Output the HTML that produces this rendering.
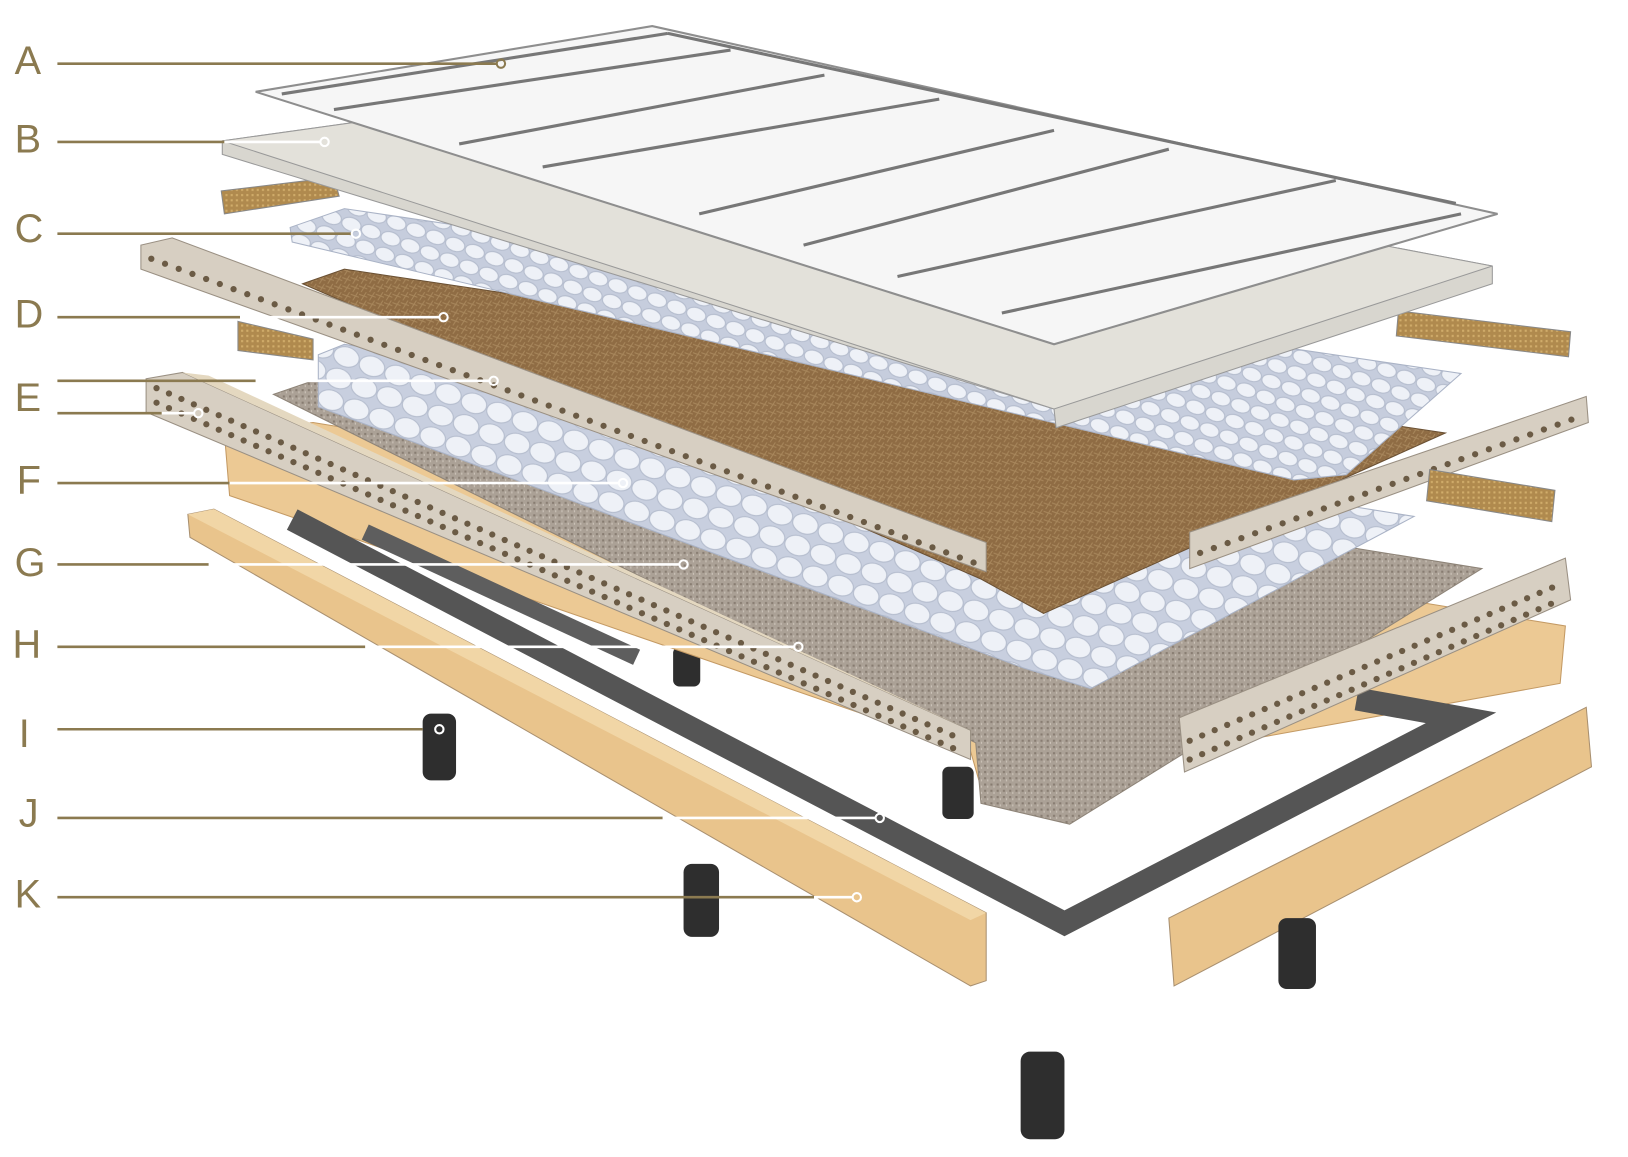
<!DOCTYPE html>
<html><head><meta charset="utf-8"><style>
html,body{margin:0;padding:0;background:#fff;}
svg{display:block;}
</style></head><body>
<svg width="1628" height="1157" viewBox="0 0 1560 1109" preserveAspectRatio="none" xmlns="http://www.w3.org/2000/svg">
<defs>
<pattern id="spr" width="20" height="16" patternUnits="userSpaceOnUse" patternTransform="rotate(20)">
<rect width="20" height="16" fill="#c6cddd"/>
<ellipse cx="10" cy="7" rx="9.5" ry="6.5" fill="#eef1f7" stroke="#b4bccd" stroke-width="1"/>
</pattern>
<pattern id="spr2" width="26" height="22" patternUnits="userSpaceOnUse" patternTransform="rotate(20)">
<rect width="26" height="22" fill="#c8cfdf"/>
<ellipse cx="13" cy="10" rx="12.5" ry="9.5" fill="#eef1f7" stroke="#b4bccd" stroke-width="1"/>
</pattern>
<pattern id="coir" width="8" height="8" patternUnits="userSpaceOnUse">
<rect width="8" height="8" fill="#8f6c44"/>
<path d="M0 2 L8 5 M2 8 L7 0" stroke="#a8875c" stroke-width="1"/>
</pattern>
<pattern id="felt" width="6" height="6" patternUnits="userSpaceOnUse">
<rect width="6" height="6" fill="#aba196"/>
<rect x="1" y="1" width="2" height="2" fill="#877c71"/>
<rect x="4" y="3" width="1" height="2" fill="#cfc7bc"/>
</pattern>
<pattern id="coirbar" width="5" height="5" patternUnits="userSpaceOnUse">
<rect width="5" height="5" fill="#b08a4e"/>
<rect x="1" y="1" width="2" height="2" fill="#d1ad6b"/>
</pattern>
</defs>

<g font-family="Liberation Sans, sans-serif" font-size="38" fill="#8b7a50">
<text x="14" y="71">A</text><text x="14" y="146">B</text><text x="14" y="232">C</text>
<text x="14" y="314">D</text><text x="14" y="394">E</text><text x="16" y="473">F</text>
<text x="14" y="552">G</text><text x="12" y="630">H</text><text x="18" y="716">I</text>
<text x="18" y="792">J</text><text x="14" y="870">K</text>
</g>

<g fill="#2e2e2e">
<rect x="645" y="620" width="26" height="38" rx="6"/>
<rect x="903" y="735" width="30" height="50" rx="6"/>
</g>

<polygon points="215,415 300,405 1500,600 1495,655 940,755 930,720 220,475" fill="#ecc994" stroke="#c49a64"/>
<polyline points="280,498 1020,885 1400,688 1300,670" fill="none" stroke="#555" stroke-width="22" stroke-linejoin="miter"/>
<polyline points="350,510 610,630" fill="none" stroke="#5e5e5e" stroke-width="16"/>
<polygon points="262,378 300,365 1420,545 1025,790 940,770 935,712" fill="url(#felt)" stroke="#8e8478"/>
<polygon points="140,363 175,357 930,700 930,728 140,395" fill="#d7cfc2" stroke="#9a9083"/>
<polygon points="175,357 200,360 930,700" fill="#e4d8c0"/>
<line x1="150" y1="372" x2="920" y2="708" stroke="#6b5b45" stroke-width="6" stroke-linecap="round" stroke-dasharray="0 13"/>
<line x1="150" y1="386" x2="920" y2="720" stroke="#6b5b45" stroke-width="6" stroke-linecap="round" stroke-dasharray="0 13"/>
<polygon points="1130,688 1500,535 1505,575 1135,740" fill="#d7cfc2" stroke="#9a9083"/>
<line x1="1140" y1="710" x2="1495" y2="560" stroke="#6b5b45" stroke-width="6" stroke-linecap="round" stroke-dasharray="0 13"/>
<line x1="1140" y1="728" x2="1495" y2="575" stroke="#6b5b45" stroke-width="6" stroke-linecap="round" stroke-dasharray="0 13"/>
<polygon points="305,340 330,330 1355,495 1045,660 980,640 305,390" fill="url(#spr2)" stroke="#aab3c6"/>
<polygon points="290,272 330,258 1385,415 1000,588 940,555" fill="url(#coir)" stroke="#6a5033"/>
<polygon points="135,235 165,228 945,520 945,548 135,258" fill="#d7cfc2" stroke="#9a9083"/>
<line x1="145" y1="248" x2="935" y2="540" stroke="#6b5b45" stroke-width="6" stroke-linecap="round" stroke-dasharray="0 14"/>
<polygon points="1140,510 1520,380 1522,405 1140,545" fill="#d7cfc2" stroke="#9a9083"/>
<line x1="1150" y1="530" x2="1512" y2="400" stroke="#6b5b45" stroke-width="6" stroke-linecap="round" stroke-dasharray="0 14"/>
<polygon points="1370,450 1490,470 1487,500 1367,480" fill="url(#coirbar)" stroke="#888"/>
<polygon points="1340,298 1505,318 1503,342 1338,322" fill="url(#coirbar)" stroke="#888"/>
<polygon points="228,308 300,325 300,345 228,336" fill="url(#coirbar)" stroke="#888"/>
<polygon points="212,183 320,170 325,188 215,205" fill="url(#coirbar)" stroke="#888"/>
<polygon points="278,218 330,200 1400,358 1290,455 1240,460 280,232" fill="url(#spr)" stroke="#aab3c6"/>
<polygon points="213,135 550,88 1430,255 1430,272 1012,410 1010,392 213,148" fill="#d8d6cf" stroke="#999"/>
<polygon points="213,135 550,88 1430,255 1010,392" fill="#e3e1da" stroke="#999"/>
<polygon points="245,88 625,25 1435,205 1010,330" fill="#f6f6f6" stroke="#8e8e8e" stroke-width="2"/>
<g stroke="#777" stroke-width="3" fill="none">
<line x1="270" y1="90" x2="640" y2="32"/>
<line x1="640" y1="32" x2="1395" y2="195"/>
<line x1="320" y1="105" x2="700" y2="48"/>
<line x1="440" y1="138" x2="790" y2="72"/>
<line x1="520" y1="160" x2="900" y2="95"/>
<line x1="670" y1="205" x2="1010" y2="125"/>
<line x1="770" y1="235" x2="1120" y2="143"/>
<line x1="860" y1="265" x2="1280" y2="173"/>
<line x1="960" y1="300" x2="1400" y2="205"/>
</g>
<polygon points="180,493 205,488 945,875 945,940 930,945 182,515" fill="#e9c48c" stroke="#a99070"/>
<polygon points="180,493 205,488 945,875 930,882" fill="#f1d6a6"/>
<polygon points="1120,880 1520,678 1525,735 1125,945" fill="#e9c48c" stroke="#a99070"/>
<g fill="#2e2e2e">
<rect x="405" y="684" width="32" height="64" rx="8"/>
<rect x="655" y="828" width="34" height="70" rx="8"/>
<rect x="1225" y="880" width="36" height="68" rx="8"/>
<rect x="978" y="1008" width="42" height="84" rx="9"/>
</g>

<g stroke="#8b7a50" stroke-width="2.5">
<line x1="55" y1="61" x2="476" y2="61"/><line x1="55" y1="136" x2="215" y2="136"/>
<line x1="55" y1="224" x2="337" y2="224"/><line x1="55" y1="304" x2="230" y2="304"/>
<line x1="55" y1="365" x2="245" y2="365"/><line x1="55" y1="396" x2="155" y2="396"/>
<line x1="55" y1="463" x2="220" y2="463"/><line x1="55" y1="541" x2="200" y2="541"/>
<line x1="55" y1="620" x2="350" y2="620"/><line x1="55" y1="699" x2="405" y2="699"/>
<line x1="55" y1="784" x2="635" y2="784"/><line x1="55" y1="860" x2="780" y2="860"/>
</g>
<g stroke="#fff" stroke-width="2.5">
<line x1="215" y1="136" x2="307" y2="136"/><line x1="230" y1="304" x2="421" y2="304"/>
<line x1="245" y1="365" x2="469" y2="365"/><line x1="155" y1="396" x2="186" y2="396"/>
<line x1="220" y1="463" x2="593" y2="463"/><line x1="200" y1="541" x2="651" y2="541"/>
<line x1="350" y1="620" x2="761" y2="620"/><line x1="635" y1="784" x2="839" y2="784"/>
<line x1="780" y1="860" x2="817" y2="860"/>
</g>
<g fill="none" stroke-width="2">
<circle cx="480" cy="61" r="4" stroke="#8b7a50"/>
<circle cx="311" cy="136" r="4" stroke="#fff"/><circle cx="341" cy="224" r="4" stroke="#fff"/>
<circle cx="425" cy="304" r="4" stroke="#fff"/><circle cx="473" cy="365" r="4" stroke="#fff"/>
<circle cx="190" cy="396" r="4" stroke="#fff"/><circle cx="597" cy="463" r="4" stroke="#fff"/>
<circle cx="655" cy="541" r="4" stroke="#fff"/><circle cx="765" cy="620" r="4" stroke="#fff"/>
<circle cx="421" cy="699" r="4" stroke="#fff"/><circle cx="843" cy="784" r="4" stroke="#fff"/>
<circle cx="821" cy="860" r="4" stroke="#fff"/>
</g>
</svg>
</body></html>
